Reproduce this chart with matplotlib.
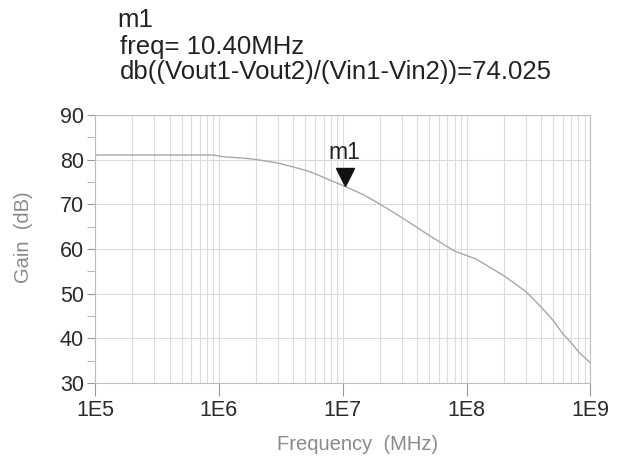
import numpy as np
import matplotlib.pyplot as plt
from matplotlib.ticker import FixedLocator, LogLocator, NullFormatter

plt.rcParams['font.family'] = ['Liberation Sans', 'DejaVu Sans']

freq = [1e5, 5e5, 9e5, 1.1e6, 1.6e6, 2e6, 3e6, 4e6, 5e6, 6e6, 7e6, 8e6, 1.04e7,
        1.5e7, 2e7, 3e7, 5e7, 8e7, 1.2e8, 2e8, 3e8, 4e8, 5e8, 6e8, 7e8, 8e8, 1e9]
gain = [81, 81, 81, 80.6, 80.3, 80, 79.2, 78.3, 77.6, 76.8, 76, 75.3, 74.0,
        72, 70, 67, 63, 59.5, 57.7, 54, 50.5, 47, 44, 41, 39, 37, 34.5]
marker_f = 1.04e7
marker_g = 74.025
xticks = [1e5, 1e6, 1e7, 1e8, 1e9]
xticklabels = ['1E5', '1E6', '1E7', '1E8', '1E9']

fig = plt.figure(figsize=(6.3, 4.63), dpi=100)
ax = fig.add_axes([0.151, 0.173, 0.786, 0.579])
ax.plot(freq, gain, color='#a8a8a8', lw=1.0)
ax.set_xscale('log')
ax.set_xlim(1e5, 1e9)
ax.set_ylim(30, 90)

ax.set_xticks(xticks)
ax.set_xticklabels(xticklabels)
ax.xaxis.set_minor_locator(LogLocator(base=10, subs=np.arange(2, 10)))
ax.xaxis.set_minor_formatter(NullFormatter())
ax.set_yticks(range(30, 91, 10))
ax.yaxis.set_minor_locator(FixedLocator(range(35, 90, 10)))

ax.grid(True, which='both', axis='x', color='#dcdcdc', lw=0.8)
ax.grid(True, which='major', axis='y', color='#dcdcdc', lw=0.8)
ax.set_axisbelow(True)
for s in ax.spines.values():
    s.set_color('#bdbdbd')
ax.tick_params(axis='both', which='major', labelsize=15.5, colors='#999999',
               length=6, width=0.8, direction='out')
ax.tick_params(axis='x', which='minor', length=0)
ax.tick_params(axis='y', which='minor', length=6, color='#aaaaaa')
ax.tick_params(axis='x', which='major', length=9, pad=3)
ax.tick_params(axis='y', which='major', pad=2)
for lab in ax.get_xticklabels() + ax.get_yticklabels():
    lab.set_color('#2a2a2a')

ax.set_xlabel('Frequency  (MHz)', fontsize=14.5, color='#8a8a8a')
ax.set_ylabel('Gain  (dB)', fontsize=14.5, color='#8a8a8a')
ax.xaxis.set_label_coords(0.53, -0.195)
ax.yaxis.set_label_coords(-0.125, 0.545)

# marker m1
ax.plot([marker_f], [marker_g + 2.0], marker='v', color='#111111', ms=13,
        linestyle='none')
ax.text(marker_f, marker_g + 5.0, 'm1', fontsize=16.5, color='#222222',
        ha='center', va='bottom')

fig.text(0.186, 0.957, 'm1', fontsize=18.5, color='#222222', va='center')
fig.text(0.19, 0.899, 'freq= 10.40MHz', fontsize=18.5, color='#222222', va='center')
fig.text(0.19, 0.845, 'db((Vout1-Vout2)/(Vin1-Vin2))=74.025', fontsize=18.5,
         color='#222222', va='center')

fig.savefig('out.png', dpi=100)
